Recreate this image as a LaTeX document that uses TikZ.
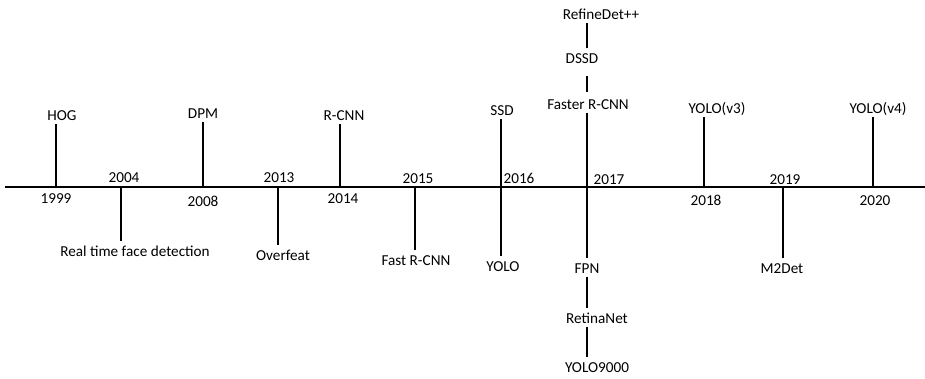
\documentclass[tikz,border=0pt]{standalone}
\usepackage{fontspec}
\setmainfont{Carlito}
\begin{document}
\begin{tikzpicture}[x=1pt,y=-1pt,
  lbl/.style={anchor=base,inner sep=3.5pt,text height=11pt,text depth=0pt,font=\fontsize{15.2}{17}\selectfont},
  yr/.style={lbl},
  tick/.style={line width=2.8pt},
  axisline/.style={line width=2.8pt}]
\useasboundingbox[fill=white] (0,0) rectangle (925,378);
% axis
\coordinate (a0) at (5,187);
\coordinate (a1) at (925,187);
\draw[axisline] (a0) -- (a1);
% tick positions on the axis
\coordinate (t1999) at (56,187);
\coordinate (t2004) at (121,187);
\coordinate (t2008) at (203,187);
\coordinate (t2013) at (278,187);
\coordinate (t2014) at (340,187);
\coordinate (t2015) at (415,187);
\coordinate (t2016) at (501,187);
\coordinate (t2017) at (587,187);
\coordinate (t2018) at (704,187);
\coordinate (t2019) at (783,187);
\coordinate (t2020) at (873,187);
% year labels
\node[yr] (y1999) at (56,203) {1999};
\node[yr] (y2004) at (124,182) {2004};
\node[yr] (y2008) at (203,206) {2008};
\node[yr] (y2013) at (279,182) {2013};
\node[yr] (y2014) at (343,203) {2014};
\node[yr] (y2015) at (418,183) {2015};
\node[yr] (y2016) at (519,183) {2016};
\node[yr] (y2017) at (609,184) {2017};
\node[yr] (y2018) at (706,205) {2018};
\node[yr] (y2019) at (785,184) {2019};
\node[yr] (y2020) at (875,205) {2020};
% detectors
\node[lbl] (hog) at (62,120) {HOG};
\node[lbl] (rtfd) at (135,256) {Real time face detection};
\node[lbl] (dpm) at (203,118) {DPM};
\node[lbl] (overfeat) at (283,260) {Overfeat};
\node[lbl] (rcnn) at (344,120) {R-CNN};
\node[lbl] (fastrcnn) at (416,265) {Fast R-CNN};
\node[lbl] (ssd) at (502,115) {SSD};
\node[lbl] (yolo) at (503,271) {YOLO};
\node[lbl] (fasterrcnn) at (588,109) {Faster R-CNN};
\node[lbl] (dssd) at (582,63) {DSSD};
\node[lbl] (refinedet) at (601,19) {RefineDet++};
\node[lbl] (fpn) at (587,273) {FPN};
\node[lbl] (retinanet) at (597,323) {RetinaNet};
\node[lbl] (yolo9000) at (597,372) {YOLO9000};
\node[lbl] (yolov3) at (717,113) {YOLO(v3)};
\node[lbl] (m2det) at (782,273) {M2Det};
\node[lbl] (yolov4) at (878,113) {YOLO(v4)};
% ticks
\draw[tick] (t1999) -- (t1999 |- hog.south);
\draw[tick] (t2004) -- (t2004 |- rtfd.north);
\draw[tick] (t2008) -- (t2008 |- dpm.south);
\draw[tick] (t2013) -- (t2013 |- overfeat.north);
\draw[tick] (t2014) -- (t2014 |- rcnn.south);
\draw[tick] (t2015) -- (t2015 |- fastrcnn.north);
\draw[tick] (t2016) -- (t2016 |- ssd.south);
\draw[tick] (t2016) -- (t2016 |- yolo.north);
\draw[tick] (t2017) -- (t2017 |- fasterrcnn.south);
\draw[tick,shorten <=2.5pt,shorten >=9.5pt] (t2017 |- fasterrcnn.north) -- (t2017 |- dssd.south);
\draw[tick] (t2017 |- dssd.north) -- (t2017 |- refinedet.south);
\draw[tick] (t2017) -- (t2017 |- fpn.north);
\draw[tick] (t2017 |- fpn.south) -- (t2017 |- retinanet.north);
\draw[tick] (t2017 |- retinanet.south) -- (t2017 |- yolo9000.north);
\draw[tick] (t2018) -- (t2018 |- yolov3.south);
\draw[tick] (t2019) -- (t2019 |- m2det.north);
\draw[tick] (t2020) -- (t2020 |- yolov4.south);
\end{tikzpicture}
\end{document}
